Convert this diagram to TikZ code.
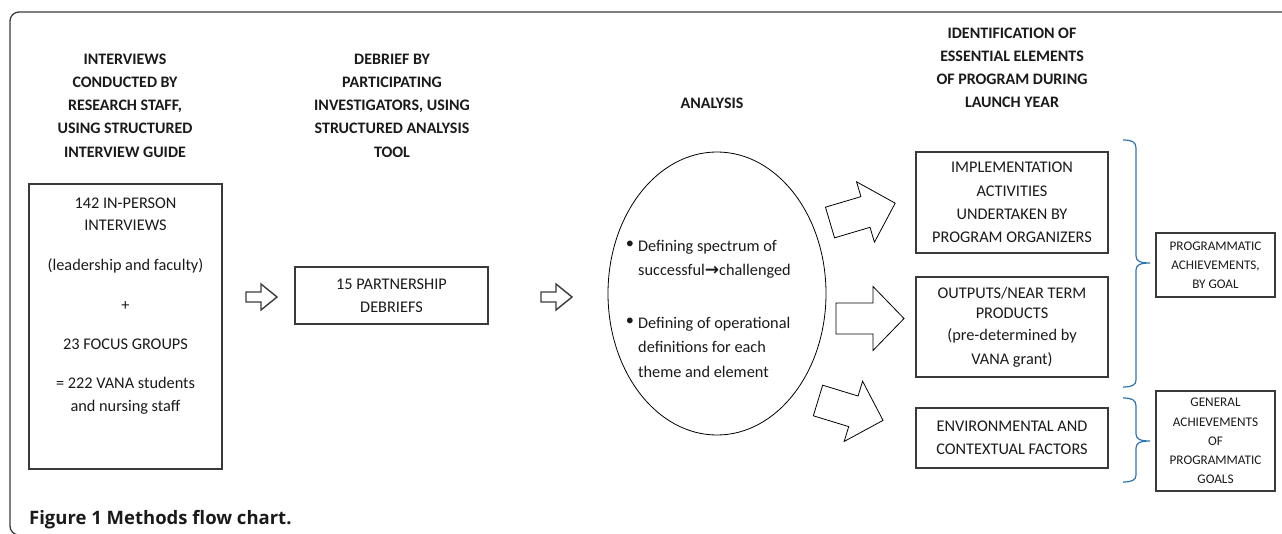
\documentclass[tikz,border=0pt]{standalone}
\usepackage{fontspec}
\setmainfont{Carlito}
\newfontfamily\capfont{Open Sans}
\newfontfamily\symfont{DejaVu Sans}
\usetikzlibrary{shapes.geometric}
\definecolor{boxgray}{HTML}{3A3A3A}
\definecolor{txt}{HTML}{1A1A1A}
\definecolor{braceblue}{HTML}{2E75B6}
\begin{document}
\begin{tikzpicture}[x=1pt,y=-1pt,
  every node/.style={text=txt},
  body/.style={font=\fontsize{16.3}{23}\selectfont},
  hdr/.style={align=center, font=\bfseries\fontsize{16}{23.2}\selectfont, inner sep=0},
  box/.style={draw=boxgray, line width=1.2pt, inner sep=0, align=center, font=\fontsize{16.3}{23.3}\selectfont},
  smallbox/.style={draw=boxgray, line width=1.2pt, inner sep=0, align=center, font=\fontsize{13.2}{19.2}\selectfont},
  blockarrow/.style={draw=black, line width=0.8pt, line join=miter},
  smallarrow/.style={draw=boxgray, line width=1.4pt, line join=miter},
  brace/.style={draw=braceblue, line width=1.2pt},
  frame/.style={draw=boxgray, line width=1.3pt, rounded corners=9pt}
]
\useasboundingbox (0,0) rectangle (1282,534);
% outer frame
\draw[frame] (1300,12) -- (10,12) -- (10,535) -- (1300,535);

% headers
\node[hdr] (h1) at (125,105.5) {INTERVIEWS\\CONDUCTED BY\\RESEARCH STAFF,\\USING STRUCTURED\\INTERVIEW GUIDE};
\node[hdr] (h2) at (392,105.5) {DEBRIEF BY\\PARTICIPATING\\INVESTIGATORS, USING\\STRUCTURED ANALYSIS\\TOOL};
\node[hdr] (h3) at (712,103) {ANALYSIS};
\node[hdr] (h4) at (1012,68) {IDENTIFICATION OF\\ESSENTIAL ELEMENTS\\OF PROGRAM DURING\\LAUNCH YEAR};

% left box
\node[box, minimum width=193pt, minimum height=285pt] (interv) at (125.5,326.5) {};
\node[body, align=center, inner sep=0] (intervtxt) at (125.5,306.5) {142 IN-PERSON\\[-1pt]INTERVIEWS\\[17pt](leadership and faculty)\\[17pt]+\\[16pt]23 FOCUS GROUPS\\[16pt]= 222 VANA students\\and nursing staff};

% debrief box
\node[box, minimum width=193pt, minimum height=57pt] (debrief) at (391.5,295.5) {15 PARTNERSHIP\\DEBRIEFS};

% small arrows
\draw[smallarrow] (246,292) -- (261,292) -- (261,284) -- (277,297) -- (261,310) -- (261,302) -- (246,302) -- cycle;
\draw[smallarrow] (541,292) -- (556,292) -- (556,284) -- (572,297) -- (556,310) -- (556,302) -- (541,302) -- cycle;

% analysis ellipse
\node[ellipse, draw=black, line width=0.8pt, minimum width=218pt, minimum height=283pt, inner sep=0] (ana) at (717,293.5) {};
\node[body, align=left, anchor=west, inner sep=0, font=\fontsize{16.3}{24.5}\selectfont] (anatxt) at (638,308.5) {Defining spectrum of\\successful{\symfont\bfseries\fontsize{17}{17}\selectfont →}challenged\\[28pt]Defining of operational\\definitions for each\\theme and element};
\node[body, inner sep=0] (b1) at (630,245) {•};
\node[body, inner sep=0] (b2) at (630,322) {•};

% block arrows
\draw[blockarrow, shift={(830,222.5)}, rotate=16.5] (0,-16) -- (37,-16) -- (37,-31.5) -- (68,0) -- (37,31.5) -- (37,16) -- (0,16) -- cycle;
\draw[blockarrow, shift={(836,318.5)}] (0,-15.5) -- (37,-15.5) -- (37,-32) -- (68,0) -- (37,32) -- (37,15.5) -- (0,15.5) -- cycle;
\draw[blockarrow, shift={(818,400.5)}, rotate=-17] (0,-16) -- (37,-16) -- (37,-31.5) -- (68,0) -- (37,31.5) -- (37,16) -- (0,16) -- cycle;

% right boxes
\node[box, minimum width=192pt, minimum height=101pt] (impl) at (1012,202.5) {IMPLEMENTATION\\ACTIVITIES\\UNDERTAKEN BY\\PROGRAM ORGANIZERS};
\node[box, minimum width=192pt, minimum height=100pt] (outp) at (1012,327) {OUTPUTS/NEAR TERM\\[-3pt]PRODUCTS\\[-1pt](pre-determined by\\VANA grant)};
\node[box, minimum width=192pt, minimum height=60pt] (env) at (1012,438) {ENVIRONMENTAL AND\\CONTEXTUAL FACTORS};

% braces
\draw[brace] (1123,140) .. controls (1132,140) and (1136,142) .. (1136,148) -- (1136,256) .. controls (1136,261) and (1140,263) .. (1150,263) .. controls (1140,263) and (1136,265) .. (1136,270) -- (1136,380) .. controls (1136,385) and (1132,387) .. (1123,387);
\draw[brace] (1123,398) .. controls (1132,398) and (1136,400) .. (1136,406) -- (1136,434) .. controls (1136,439) and (1140,441) .. (1150,441) .. controls (1140,441) and (1136,443) .. (1136,448) -- (1136,475) .. controls (1136,480) and (1132,482) .. (1123,482);

% result boxes
\node[smallbox, minimum width=119pt, minimum height=64pt] (prog) at (1215.5,265) {PROGRAMMATIC\\ACHIEVEMENTS,\\BY GOAL};
\node[smallbox, minimum width=119pt, minimum height=100pt] (gen) at (1215.5,441) {GENERAL\\ACHIEVEMENTS\\OF\\PROGRAMMATIC\\GOALS};

% caption
\node[anchor=base west, inner sep=0, font=\capfont\bfseries\fontsize{18.5}{22}\selectfont] (cap) at (29,524) {Figure 1 Methods flow chart.};
\end{tikzpicture}
\end{document}
